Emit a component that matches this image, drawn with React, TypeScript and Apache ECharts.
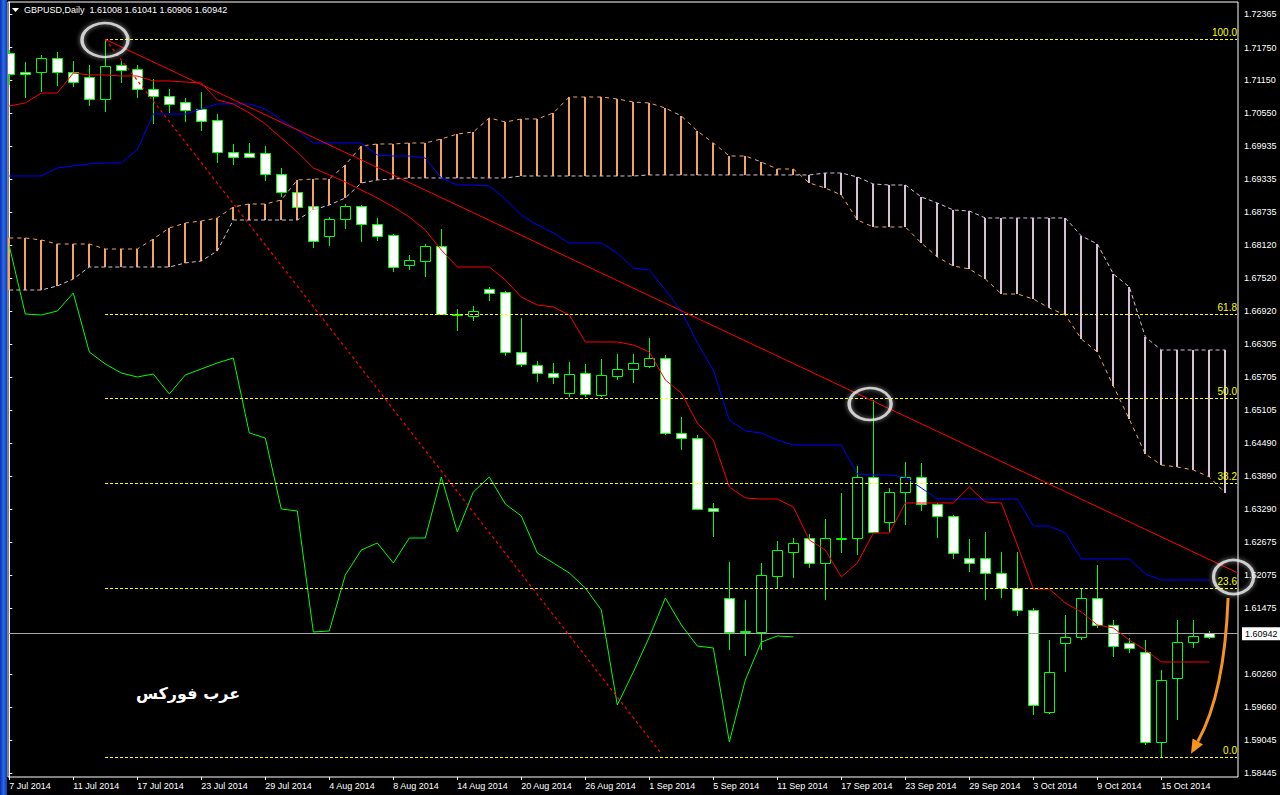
import React, { useEffect, useRef } from "react";
import * as echarts from "echarts";

const dates = [
  "7 Jul 2014","8 Jul 2014","9 Jul 2014","10 Jul 2014","11 Jul 2014","14 Jul 2014","15 Jul 2014","16 Jul 2014","17 Jul 2014","18 Jul 2014",
  "21 Jul 2014","22 Jul 2014","23 Jul 2014","24 Jul 2014","25 Jul 2014","28 Jul 2014","29 Jul 2014","30 Jul 2014","31 Jul 2014","1 Aug 2014",
  "4 Aug 2014","5 Aug 2014","6 Aug 2014","7 Aug 2014","8 Aug 2014","11 Aug 2014","12 Aug 2014","13 Aug 2014","14 Aug 2014","15 Aug 2014",
  "18 Aug 2014","19 Aug 2014","20 Aug 2014","21 Aug 2014","22 Aug 2014","25 Aug 2014","26 Aug 2014","27 Aug 2014","28 Aug 2014","29 Aug 2014",
  "1 Sep 2014","2 Sep 2014","3 Sep 2014","4 Sep 2014","5 Sep 2014","8 Sep 2014","9 Sep 2014","10 Sep 2014","11 Sep 2014","12 Sep 2014",
  "15 Sep 2014","16 Sep 2014","17 Sep 2014","18 Sep 2014","19 Sep 2014","22 Sep 2014","23 Sep 2014","24 Sep 2014","25 Sep 2014","26 Sep 2014",
  "29 Sep 2014","30 Sep 2014","1 Oct 2014","2 Oct 2014","3 Oct 2014","6 Oct 2014","7 Oct 2014","8 Oct 2014","9 Oct 2014","10 Oct 2014",
  "13 Oct 2014","14 Oct 2014","15 Oct 2014","16 Oct 2014","17 Oct 2014","20 Oct 2014","21 Oct 2014"
];
const dateLabelIndex = [0,4,8,12,16,20,24,28,32,36,40,44,48,52,56,60,64,68,72];

const opens = [
  1.71650,1.71302,1.71302,1.71558,1.71302,1.71210,1.70806,1.71430,1.71357,1.70990,
  1.70861,1.70751,1.70623,1.70421,1.69834,1.69816,1.69816,1.69431,1.69101,1.68844,
  1.68294,1.68606,1.68844,1.68514,1.68312,1.67762,1.67835,1.68110,1.66863,1.66827,
  1.67322,1.67267,1.66166,1.65928,1.65781,1.65414,1.65781,1.65378,1.65726,1.65855,
  1.65910,1.66056,1.64681,1.64589,1.63305,1.61655,1.61031,1.61031,1.62058,1.62498,
  1.62755,1.62297,1.62737,1.62755,1.63874,1.63049,1.63599,1.63874,1.63379,1.63159,
  1.62388,1.62388,1.62113,1.61838,1.61435,1.59564,1.60829,1.60939,1.61655,1.61160,
  1.60829,1.60664,1.59014,1.60188,1.60848,1.61008
];
const closes = [
  1.71265,1.71265,1.71558,1.71302,1.71118,1.70806,1.71412,1.71338,1.70990,1.70861,
  1.70715,1.70605,1.70403,1.69834,1.69743,1.69743,1.69431,1.69101,1.68826,1.68202,
  1.68606,1.68844,1.68514,1.68294,1.67725,1.67854,1.68110,1.66863,1.66845,1.66918,
  1.67248,1.66166,1.65946,1.65781,1.65708,1.65763,1.65396,1.65745,1.65855,1.65965,
  1.66056,1.64681,1.64589,1.63287,1.63250,1.61031,1.61050,1.62077,1.62535,1.62663,
  1.62297,1.62755,1.62755,1.63874,1.62865,1.63599,1.63874,1.63379,1.63159,1.62480,
  1.62297,1.62113,1.61838,1.61435,1.59692,1.60298,1.60939,1.61655,1.61160,1.60774,
  1.60738,1.59014,1.60151,1.60848,1.60958,1.60942
];
const highs = [
  1.71705,1.71485,1.71613,1.71668,1.71503,1.71430,1.71900,1.71503,1.71430,1.71173,
  1.70990,1.70825,1.70935,1.70531,1.69981,1.69999,1.69944,1.69541,1.69229,1.68991,
  1.68642,1.68881,1.68862,1.68624,1.68330,1.67945,1.68147,1.68422,1.66955,1.67010,
  1.67358,1.67285,1.66790,1.66001,1.65965,1.65983,1.65946,1.66038,1.66130,1.66130,
  1.66423,1.66111,1.64974,1.64644,1.63397,1.62315,1.61618,1.62297,1.62700,1.62755,
  1.62828,1.63104,1.63580,1.64076,1.65286,1.63672,1.64149,1.64131,1.63397,1.63177,
  1.62737,1.62865,1.62498,1.62498,1.61471,1.60884,1.61343,1.61820,1.62260,1.61251,
  1.60921,1.60884,1.60334,1.61251,1.61251,1.61041
];
const lows = [
  1.71063,1.70825,1.70935,1.71045,1.71026,1.70678,1.70568,1.71100,1.70825,1.70348,
  1.70550,1.70385,1.70220,1.69633,1.69596,1.69724,1.69302,1.69009,1.68734,1.68074,
  1.68110,1.68422,1.68184,1.68202,1.67634,1.67670,1.67542,1.66845,1.66552,1.66735,
  1.67102,1.66093,1.65891,1.65616,1.65579,1.65341,1.65341,1.65341,1.65653,1.65598,
  1.65873,1.64644,1.64369,1.63269,1.62773,1.60701,1.60591,1.60701,1.61838,1.62022,
  1.62205,1.61618,1.62480,1.62443,1.62847,1.62865,1.62994,1.63250,1.62755,1.62370,
  1.62132,1.61618,1.61655,1.61325,1.59509,1.59527,1.60298,1.60884,1.61105,1.60573,
  1.60646,1.58959,1.58720,1.59417,1.60738,1.60906
];

const tenkan = [
  1.70678,1.70733,1.70916,1.70916,1.71283,1.71247,1.71247,1.71228,1.71228,1.71137,
  1.71137,1.71118,1.71100,1.70788,1.70715,1.70550,1.70348,1.70091,1.69834,1.69541,
  1.69413,1.69284,1.69137,1.68991,1.68826,1.68642,1.68404,1.68037,1.67725,1.67725,
  1.67725,1.67487,1.67175,1.67028,1.66992,1.66845,1.66350,1.66350,1.66350,1.66295,
  1.66166,1.65653,1.65414,1.64864,1.64552,1.63690,1.63489,1.63470,1.63470,1.63324,
  1.62718,1.62535,1.62040,1.62297,1.62847,1.62847,1.63397,1.63397,1.63397,1.63397,
  1.63690,1.63415,1.63397,1.62627,1.61820,1.61820,1.61563,1.61398,1.61160,1.61105,
  1.60884,1.60701,1.60481,1.60481,1.60481,1.60481
];
const kijun = [
  1.69394,1.69394,1.69394,1.69541,1.69578,1.69614,1.69633,1.69633,1.69871,1.70531,
  1.70531,1.70531,1.70623,1.70715,1.70715,1.70715,1.70623,1.70421,1.70238,1.69999,
  1.69999,1.69999,1.69999,1.69779,1.69761,1.69761,1.69724,1.69358,1.69229,1.69229,
  1.69211,1.68972,1.68679,1.68496,1.68349,1.68165,1.68165,1.68165,1.67982,1.67707,
  1.67670,1.67303,1.66918,1.66331,1.65836,1.64919,1.64718,1.64681,1.64552,1.64461,
  1.64461,1.64461,1.64461,1.63929,1.63911,1.63911,1.63874,1.63672,1.63470,1.63470,
  1.63470,1.63470,1.63470,1.63470,1.62975,1.62975,1.62847,1.62370,1.62370,1.62370,
  1.62370,1.62095,1.61985,1.61985,1.61985,1.61985
];
const spanA = [
  1.68257,1.68257,1.68220,1.68147,1.68147,1.68147,1.68055,1.68055,1.68055,1.68239,
  1.68441,1.68532,1.68569,1.68624,1.68826,1.68881,1.68881,1.68954,1.69321,1.69339,
  1.69339,1.69596,1.69944,1.69981,1.69981,1.69999,1.69999,1.70073,1.70164,1.70201,
  1.70458,1.70385,1.70440,1.70440,1.70550,1.70843,1.70843,1.70843,1.70806,1.70751,
  1.70733,1.70641,1.70495,1.70220,1.69999,1.69761,1.69761,1.69651,1.69523,1.69523,
  1.69266,1.69174,1.69046,1.68587,1.68459,1.68459,1.68459,1.68165,1.67909,1.67744,
  1.67689,1.67505,1.67230,1.67230,1.67138,1.66973,1.66845,1.66405,1.66166,1.65543,
  1.64931,1.64296,1.64094,1.64057,1.64002,1.63874,1.63580
];
const spanB = [
  1.67303,1.67303,1.67303,1.67377,1.67505,1.67725,1.67725,1.67725,1.67725,1.67725,
  1.67725,1.67799,1.67835,1.68019,1.68587,1.68587,1.68587,1.68587,1.68587,1.68771,
  1.68862,1.68991,1.69266,1.69321,1.69339,1.69358,1.69358,1.69358,1.69358,1.69358,
  1.69358,1.69358,1.69394,1.69394,1.69394,1.69394,1.69394,1.69394,1.69394,1.69394,
  1.69413,1.69413,1.69413,1.69413,1.69413,1.69413,1.69413,1.69413,1.69413,1.69413,
  1.69413,1.69449,1.69449,1.69376,1.69247,1.69229,1.69229,1.69009,1.68899,1.68771,
  1.68752,1.68624,1.68624,1.68624,1.68624,1.68624,1.68624,1.68294,1.68147,1.67597,
  1.67358,1.66441,1.66203,1.66203,1.66203,1.66203,1.66203
];
const chikouShift = 26;

const yTicks = [
  1.72365,1.71750,1.71150,1.70550,1.69935,1.69335,1.68735,1.68120,1.67520,1.66920,
  1.66305,1.65705,1.65105,1.64490,1.63890,1.63290,1.62675,1.62075,1.61475,1.60260,
  1.59660,1.59045,1.58445
];
const lastPrice = 1.60942;
const headerText = "GBPUSD,Daily  1.61008 1.61041 1.60906 1.60942";

const fibHigh = 1.7190;
const fibLow = 1.5873;
const fibLevels = [100.0, 61.8, 50.0, 38.2, 23.6, 0.0];
const fibStart = 6;
const fibEnd = 76.74;

const trendLine = [[6, 1.7190], [76.79, 1.62113]];
const dottedLine = [[6, 1.7190], [40.67, 1.5883]];
const circleMarks = [[5.98, 1.71888, 46, 34], [53.8, 1.65213, 42, 32], [76.51, 1.6204, 40, 34]];
const arrowFrom = [76.17, 1.61655];
const arrowVia = [75.95, 1.5990];
const arrowTo = [73.85, 1.5880];
const brandText = "عرب فوركس";

export default function App() {
  const ref = useRef<HTMLDivElement>(null);
  useEffect(() => {
    document.body.style.margin = "0";
    document.body.style.background = "#000";
    const chart = echarts.init(ref.current!, null, { renderer: "svg" });

    const candleData = opens.map((o, i) => [i, o, closes[i], lows[i], highs[i]]);
    const cloudData = spanA.map((a, i) => [i, a, spanB[i]]);
    const chikou = closes.slice(chikouShift).map((c, i) => [i, c]);
    const fibData = fibLevels.map((p) => [fibStart, fibLow + (fibHigh - fibLow) * p / 100, p]);

    const baseGraphics: any[] = [
      {
        type: "rect", z: 100,
        shape: { x: 0, y: 0, width: 7, height: 795 },
        style: {
          fill: new echarts.graphic.LinearGradient(0, 0, 1, 0, [
            { offset: 0, color: "#0b2fa8" },
            { offset: 0.5, color: "#2a6ae8" },
            { offset: 1, color: "#0d3fc4" },
          ]),
        },
      },
      {
        type: "polygon", z: 100,
        shape: { points: [[12, 8], [19, 8], [15.5, 12]] },
        style: { fill: "#fff" },
      },
      {
        type: "text", x: 24, y: 10, z: 100,
        style: {
          text: headerText, fill: "#fff", font: "9px 'Liberation Sans', Arial, sans-serif",
          verticalAlign: "middle",
        },
      },
      {
        type: "text", x: 188, y: 693, z: 100,
        style: {
          text: brandText, fill: "#fff", font: "bold 16px 'DejaVu Sans', sans-serif",
          align: "center", verticalAlign: "middle",
        },
      },
    ];

    const option: any = {
      animation: false,
      backgroundColor: "#000",
      textStyle: { fontFamily: "Liberation Sans, Arial, sans-serif" },
      grid: {
        left: 8, right: 42, top: 2, bottom: 18, show: true,
        borderColor: "#fff", borderWidth: 1, backgroundColor: "#000",
      },
      xAxis: {
        type: "value", min: -0.081, max: 76.79,
        axisLine: { show: false },
        splitLine: { show: false },
        axisTick: { show: true, customValues: dateLabelIndex, length: 3, lineStyle: { color: "#fff" } },
        axisLabel: {
          customValues: dateLabelIndex,
          formatter: (v: number) => dates[Math.round(v)] ?? "",
          color: "#fff", fontSize: 9, align: "left", margin: 4,
        },
      },
      yAxis: {
        type: "value", position: "right", min: 1.58372, max: 1.72585,
        axisLine: { show: true, lineStyle: { color: "#fff" } },
        axisTick: { show: true, customValues: yTicks, length: 3, lineStyle: { color: "#fff" } },
        axisLabel: {
          customValues: yTicks,
          formatter: (v: number) => v.toFixed(5),
          color: "#fff", fontSize: 9, margin: 6,
        },
        splitLine: { show: false },
      },
      graphic: baseGraphics,
      series: [
        {
          type: "custom", name: "candles", z: 2, clip: true,
          data: candleData,
          encode: { x: 0, y: [1, 2, 3, 4] },
          renderItem: (params: any, api: any) => {
            const k = api.value(0), o = api.value(1), c = api.value(2), l = api.value(3), h = api.value(4);
            const pO = api.coord([k, o]), pC = api.coord([k, c]), pL = api.coord([k, l]), pH = api.coord([k, h]);
            const x = Math.round(pO[0]) + 0.5;
            const top = Math.round(Math.min(pO[1], pC[1])) + 0.5;
            const bot = Math.round(Math.max(pO[1], pC[1])) + 0.5;
            const bull = c > o;
            return {
              type: "group",
              children: [
                { type: "line", shape: { x1: x, y1: Math.round(pH[1]), x2: x, y2: Math.round(pL[1]) }, style: { stroke: "#00ff00", lineWidth: 1 } },
                {
                  type: "rect",
                  shape: { x: x - 5, y: top, width: 10, height: Math.max(bot - top, 1) },
                  style: { fill: bull ? "#000" : "#fff", stroke: "#00ff00", lineWidth: 1 },
                },
              ],
            };
          },
        },
        {
          type: "custom", name: "cloud", z: 3, clip: true,
          data: cloudData,
          encode: { x: 0, y: [1, 2] },
          renderItem: (params: any, api: any) => {
            const k = api.value(0), a = api.value(1), b = api.value(2);
            const pA = api.coord([k, a]), pB = api.coord([k, b]);
            const x = Math.round(pA[0]);
            return {
              type: "line",
              shape: { x1: x, y1: Math.round(pA[1]), x2: x, y2: Math.round(pB[1]) },
              style: { stroke: a >= b ? "#F4A460" : "#D8BFD8", lineWidth: 2 },
            };
          },
        },
        {
          type: "line", name: "Senkou A", z: 4, symbol: "none",
          data: spanA.map((v, i) => [i, v]),
          lineStyle: { color: "#F4A460", width: 1, type: [4, 4] },
        },
        {
          type: "line", name: "Senkou B", z: 4, symbol: "none",
          data: spanB.map((v, i) => [i, v]),
          lineStyle: { color: "#D8BFD8", width: 1, type: [4, 3] },
        },
        {
          type: "line", name: "Kijun", z: 5, symbol: "none",
          data: kijun.map((v, i) => [i, v]),
          lineStyle: { color: "#0000ff", width: 1 },
        },
        {
          type: "line", name: "Tenkan", z: 5, symbol: "none",
          data: tenkan.map((v, i) => [i, v]),
          lineStyle: { color: "#ff0000", width: 1 },
          markLine: {
            silent: true, symbol: ["none", "none"],
            lineStyle: { color: "#a8a8a8", width: 1, type: "solid" },
            label: {
              show: true, position: "end", formatter: lastPrice.toFixed(5),
              backgroundColor: "#fff", color: "#000", fontSize: 9, padding: [2, 3], distance: 4,
            },
            data: [{ yAxis: lastPrice }],
          },
        },
        {
          type: "line", name: "Chikou", z: 5, symbol: "none",
          data: chikou,
          lineStyle: { color: "#00ff00", width: 1 },
        },
        {
          type: "custom", name: "Fibo", z: 6, clip: false,
          data: fibData,
          encode: { x: 0, y: 1 },
          renderItem: (params: any, api: any) => {
            const lvl = api.value(1), p = api.value(2);
            const p1 = api.coord([fibStart, lvl]);
            const p2 = api.coord([fibEnd, lvl]);
            const y = Math.round(p1[1]) + 0.5;
            return {
              type: "group",
              children: [
                {
                  type: "line",
                  shape: { x1: Math.round(p1[0]), y1: y, x2: Math.round(p2[0]), y2: y },
                  style: { stroke: "#ffff00", lineWidth: 1, lineDash: [3, 2] },
                },
                {
                  type: "text", x: Math.round(p2[0]), y: y - 2,
                  style: {
                    text: Number(p).toFixed(1), fill: "#ffff00",
                    font: "10px 'Liberation Sans', Arial, sans-serif",
                    align: "right", verticalAlign: "bottom",
                  },
                },
              ],
            };
          },
        },
        {
          type: "line", name: "Trend", z: 6, symbol: "none",
          data: trendLine,
          lineStyle: { color: "#ff0000", width: 1 },
        },
        {
          type: "line", name: "Fan", z: 6, symbol: "none",
          data: dottedLine,
          lineStyle: { color: "#ff0000", width: 1.2, type: [3, 3] },
        },
        {
          type: "scatter", name: "marks", z: 7, clip: false,
          data: circleMarks.map((c) => ({ value: [c[0], c[1]], symbolSize: [c[2], c[3]] })),
          symbol: "circle",
          itemStyle: {
            color: "rgba(0,0,0,0)", borderColor: "#f2f2f2", borderWidth: 3,
            shadowBlur: 5, shadowColor: "rgba(255,255,255,0.7)",
          },
        },
      ],
    };
    chart.setOption(option);

    const s = chart.convertToPixel({ gridIndex: 0 }, arrowFrom) as number[];
    const m = chart.convertToPixel({ gridIndex: 0 }, arrowVia) as number[];
    const e = chart.convertToPixel({ gridIndex: 0 }, arrowTo) as number[];
    const dx = e[0] - m[0], dy = e[1] - m[1];
    const len = Math.sqrt(dx * dx + dy * dy) || 1;
    const ux = dx / len, uy = dy / len;
    const head = 14, half = 6;
    const bx = e[0] - ux * head, by = e[1] - uy * head;
    const nx = -uy, ny = ux;
    chart.setOption({
      graphic: [
        ...baseGraphics,
        {
          type: "bezierCurve", z: 110,
          shape: { x1: s[0], y1: s[1], x2: bx, y2: by, cpx1: m[0], cpy1: m[1] },
          style: { stroke: "#F7941D", lineWidth: 3, fill: null },
        },
        {
          type: "polygon", z: 110,
          shape: { points: [[e[0], e[1]], [bx + nx * half, by + ny * half], [bx - nx * half, by - ny * half]] },
          style: { fill: "#F7941D" },
        },
      ],
    });
    return () => chart.dispose();
  }, []);
  return <div ref={ref} style={{ width: 1280, height: 795, background: "#000" }} />;
}
